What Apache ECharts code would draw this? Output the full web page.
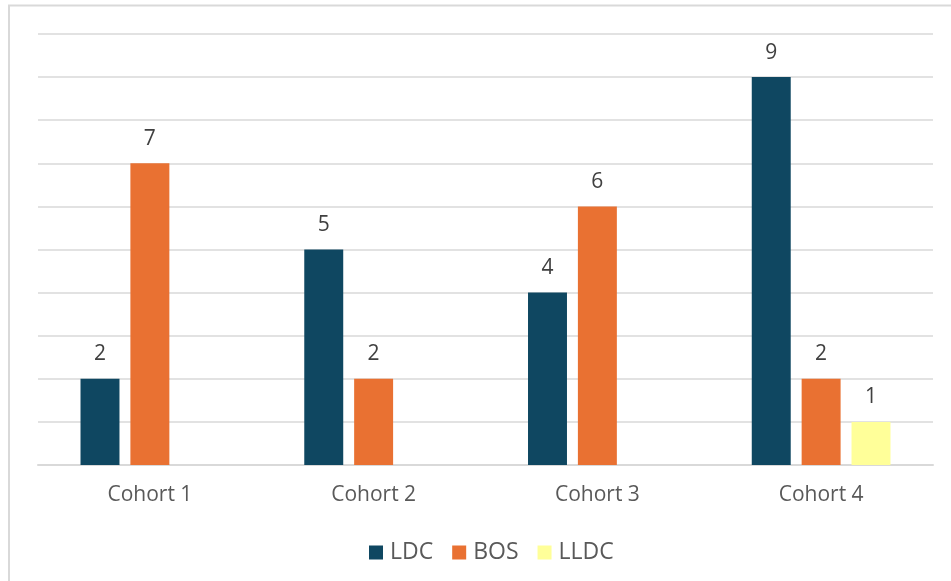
<!DOCTYPE html>
<html>
<head>
<meta charset="utf-8">
<script src="https://cdn.jsdelivr.net/npm/echarts@6/dist/echarts.min.js"></script>
<style>
html,body{margin:0;padding:0;background:#fff;}
#chart{width:951px;height:581px;}
</style>
</head>
<body>
<div id="chart"></div>
<script>
const categories = ['Cohort 1', 'Cohort 2', 'Cohort 3', 'Cohort 4'];
const ldc = [2, 5, 4, 9];
const bos = [7, 2, 6, 2];
const lldc = [null, null, null, 1];
const seriesNames = ['LDC', 'BOS', 'LLDC'];
const colors = ['#0F4761', '#E97132', '#FFFF99'];

const font = '"Open Sans", "Liberation Sans", sans-serif';
const textColor = '#595959';
const chart = echarts.init(document.getElementById('chart'));

function mk(name, data, color) {
  return {
    name: name,
    type: 'bar',
    data: data,
    itemStyle: { color: color },
    barGap: '28%',
    barCategoryGap: '38%',
    label: {
      show: true,
      position: 'top',
      distance: 14,
      color: '#404040',
      fontSize: 21,
      fontFamily: font
    }
  };
}

chart.setOption({
  animation: false,
  backgroundColor: '#fff',
  graphic: [{
    type: 'rect',
    shape: { x: 9, y: 5.5, width: 1000, height: 1000 },
    style: { fill: 'none', stroke: '#d9d9d9', lineWidth: 2 },
    silent: true
  }],
  grid: { left: 38, right: 18, top: 34, bottom: 116 },
  legend: {
    data: seriesNames,
    top: 536,
    left: 364,
    itemWidth: 14,
    itemHeight: 14,
    itemGap: 19,
    icon: 'rect',
    textStyle: { color: textColor, fontSize: 23, fontFamily: font, padding: [0, 0, 0, 2] }
  },
  xAxis: {
    type: 'category',
    data: categories,
    axisLine: { lineStyle: { color: '#d9d9d9', width: 2 } },
    axisTick: { show: false },
    axisLabel: { color: textColor, fontSize: 21, fontFamily: font, margin: 20 }
  },
  yAxis: {
    type: 'value',
    min: 0,
    max: 10,
    interval: 1,
    axisLabel: { show: false },
    axisLine: { show: false },
    axisTick: { show: false },
    splitLine: { lineStyle: { color: '#d9d9d9', width: 1.5 } }
  },
  series: [
    mk(seriesNames[0], ldc, colors[0]),
    mk(seriesNames[1], bos, colors[1]),
    mk(seriesNames[2], lldc, colors[2])
  ]
});
</script>
</body>
</html>
